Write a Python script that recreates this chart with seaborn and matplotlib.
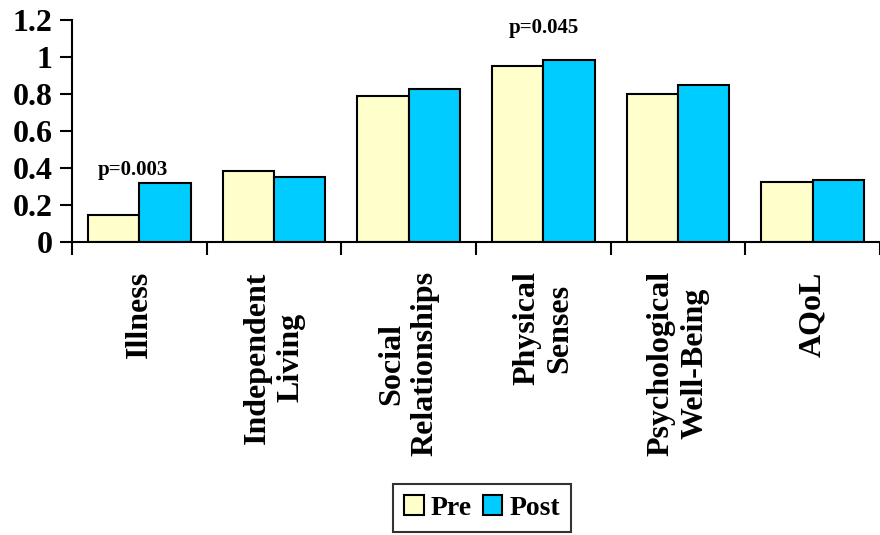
import matplotlib
matplotlib.use("Agg")
import matplotlib.pyplot as plt
import seaborn as sns
import pandas as pd

categories = ["Illness", "Independent\nLiving", "Social\nRelationships",
              "Physical\nSenses", "Psychological\nWell-Being", "AQoL"]
pre = [0.144, 0.382, 0.79, 0.95, 0.80, 0.326]
post = [0.317, 0.35, 0.825, 0.982, 0.847, 0.337]
p_labels = {0: "p=0.003", 3: "p=0.045"}

df = pd.DataFrame({
    "domain": categories * 2,
    "score": pre + post,
    "time": ["Pre"] * len(categories) + ["Post"] * len(categories),
})

sns.set_style("white")
plt.rcParams["font.family"] = ["Liberation Serif", "DejaVu Serif"]
plt.rcParams["font.weight"] = "bold"
plt.rcParams["text.color"] = "black"
plt.rcParams["xtick.color"] = "black"
plt.rcParams["ytick.color"] = "black"
plt.rcParams["axes.labelcolor"] = "black"

fig = plt.figure(figsize=(8.8, 5.35), dpi=100)
ax = fig.add_axes([72 / 880, 1 - 242 / 535, 1 - 72 / 880, (242 - 20) / 535])

sns.barplot(data=df, x="domain", y="score", hue="time",
            palette={"Pre": "#FFFFCC", "Post": "#00CCFF"},
            width=0.76, gap=0, edgecolor="black", linewidth=1.5,
            saturation=1, ax=ax, legend=True)

ax.set_xlim(-0.5, -0.5 + 808 / 136)
ax.set_ylim(0, 1.2)
ax.set_yticks([0, 0.2, 0.4, 0.6, 0.8, 1.0, 1.2])
ax.set_yticklabels(["0", "0.2", "0.4", "0.6", "0.8", "1", "1.2"])
ax.set_xlabel("")
ax.set_ylabel("")

sns.despine(ax=ax)
for s in ["left", "bottom"]:
    ax.spines[s].set_linewidth(1.5)
    ax.spines[s].set_color("black")

# category boundary ticks
ax.set_xticks([i + 0.5 for i in range(-1, len(categories))], minor=True)
ax.tick_params(axis="x", which="minor", length=9, width=1.5, direction="out", bottom=True)
ax.tick_params(axis="x", which="major", length=0, pad=21, labelsize=23)
ax.tick_params(axis="y", which="major", length=9, width=1.5, direction="out",
               left=True, pad=5, labelsize=23)
for lab in ax.get_xticklabels():
    lab.set_rotation(90)
    lab.set_multialignment("center")
    lab.set_fontweight("bold")
for lab in ax.get_yticklabels():
    lab.set_fontweight("bold")

ax.text(-0.05, 0.36, p_labels[0], ha="center", va="baseline", fontsize=15, fontweight="bold")
ax.text(3.0, 1.13, p_labels[3], ha="center", va="baseline", fontsize=15, fontweight="bold")

handles, labels = ax.get_legend_handles_labels()
ax.get_legend().remove()
leg = fig.legend(handles, labels, loc="center", bbox_to_anchor=(482 / 880, 1 - 508 / 535),
                 ncol=2, frameon=True, fancybox=False, edgecolor="black",
                 handlelength=0.7, handleheight=0.7, handletextpad=0.25,
                 columnspacing=0.4, borderpad=0.4, borderaxespad=0,
                 prop={"family": "Liberation Serif", "weight": "bold", "size": 20})
leg.get_frame().set_linewidth(1.5)

fig.savefig("out.png", dpi=100)
